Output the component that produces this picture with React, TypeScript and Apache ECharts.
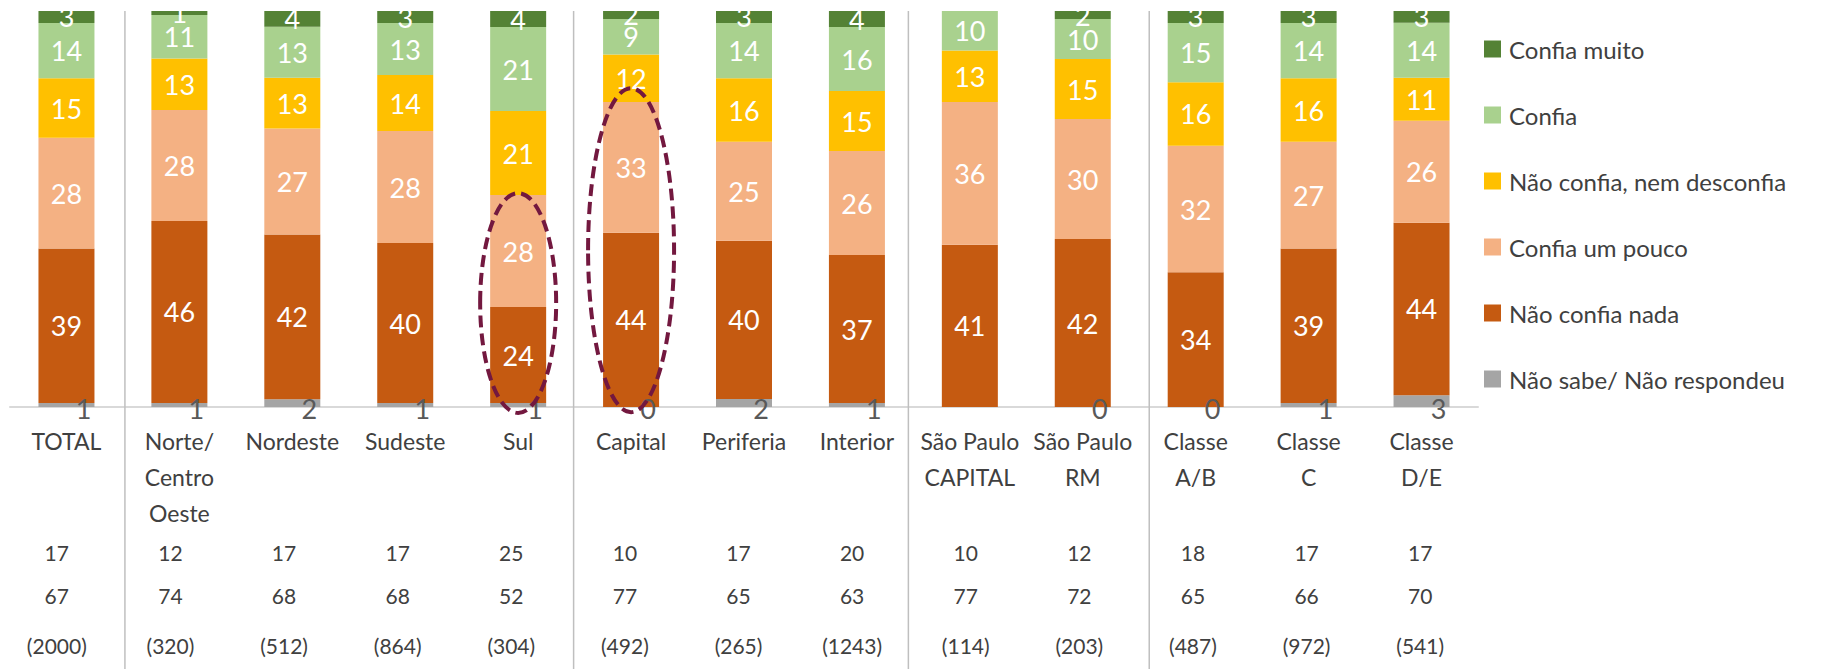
import React, { useEffect, useRef } from 'react';
import * as echarts from 'echarts';

const categories = ['TOTAL', 'Norte/\nCentro\nOeste', 'Nordeste', 'Sudeste', 'Sul', 'Capital', 'Periferia', 'Interior', 'São Paulo\nCAPITAL', 'São Paulo\nRM', 'Classe\nA/B', 'Classe\nC', 'Classe\nD/E'];

const naoSabe = [1, 1, 2, 1, 1, 0, 2, 1, null, 0, 0, 1, 3];
const naoConfiaNada = [39, 46, 42, 40, 24, 44, 40, 37, 41, 42, 34, 39, 44];
const confiaUmPouco = [28, 28, 27, 28, 28, 33, 25, 26, 36, 30, 32, 27, 26];
const nemDesconfia = [15, 13, 13, 14, 21, 12, 16, 15, 13, 15, 16, 16, 11];
const confia = [14, 11, 13, 13, 21, 9, 14, 16, 10, 10, 15, 14, 14];
const confiaMuito = [3, 1, 4, 3, 4, 2, 3, 4, null, 2, 3, 3, 3];

const rowConfia = ['17', '12', '17', '17', '25', '10', '17', '20', '10', '12', '18', '17', '17'];
const rowNaoConfia = ['67', '74', '68', '68', '52', '77', '65', '63', '77', '72', '65', '66', '70'];
const rowBase = ['(2000)', '(320)', '(512)', '(864)', '(304)', '(492)', '(265)', '(1243)', '(114)', '(203)', '(487)', '(972)', '(541)'];

const FONT = 'Lato';

export default function App() {
  const ref = useRef<HTMLDivElement>(null);
  useEffect(() => {
    if (!ref.current) return;
    const chart = echarts.init(ref.current, null, { renderer: 'svg' });
    const all = [naoSabe, naoConfiaNada, confiaUmPouco, nemDesconfia, confia, confiaMuito];
    const totals = categories.map((_, i) => all.reduce((s, a) => s + (a[i] ?? 0), 0));
    const norm = (arr: (number | null)[]) => arr.map((v, i) => (v == null ? null : (v / totals[i]) * 100));

    const mk = (name: string, arr: (number | null)[], color: string, gray = false) => ({
      name,
      type: 'bar',
      stack: 'total',
      xAxisIndex: 0,
      yAxisIndex: 0,
      barWidth: 56,
      data: norm(arr),
      itemStyle: { color },
      label: gray
        ? {
            show: true,
            position: 'insideBottom',
            distance: 0,
            verticalAlign: 'middle',
            offset: [17, 1],
            color: '#595959',
            fontSize: 27,
            fontFamily: FONT,
            formatter: (p: any) => String(arr[p.dataIndex]),
          }
        : {
            show: true,
            position: 'inside',
            color: '#ffffff',
            fontSize: 27,
            fontFamily: FONT,
            formatter: (p: any) => String(arr[p.dataIndex]),
          },
    });

    const rowAxis = (data: string[], gridIndex: number, offset: number) => ({
      type: 'category',
      gridIndex,
      position: 'bottom',
      data,
      offset,
      axisLine: { show: false },
      axisTick: { show: false },
      axisLabel: { interval: 0, color: '#404040', fontSize: 21, fontFamily: FONT, lineHeight: 24, margin: 0 },
    });
    const rowGrid = { left: 0, right: 353, top: 11, bottom: 262 };

    chart.setOption({
      animation: false,
      backgroundColor: '#ffffff',
      textStyle: { fontFamily: FONT },
      grid: [{ left: 10, right: 352, top: 11, bottom: 262 }, rowGrid, rowGrid, rowGrid],
      xAxis: [
        {
          type: 'category',
          gridIndex: 0,
          position: 'bottom',
          data: categories,
          axisLine: { lineStyle: { color: '#D9D9D9', width: 2 } },
          axisTick: { show: false },
          axisLabel: { interval: 0, color: '#404040', fontSize: 23, fontFamily: FONT, lineHeight: 36, margin: 16 },
        },
        rowAxis(rowConfia, 1, 133),
        rowAxis(rowNaoConfia, 2, 176),
        rowAxis(rowBase, 3, 226),
      ],
      yAxis: [0, 1, 2, 3].map((g) => ({ type: 'value', gridIndex: g, min: 0, max: 100, show: false })),
      legend: {
        orient: 'vertical',
        left: 1479,
        top: 32,
        itemWidth: 17,
        itemHeight: 17,
        itemGap: 42,
        icon: 'rect',
        data: ['Confia muito', 'Confia', 'Não confia, nem desconfia', 'Confia um pouco', 'Não confia nada', 'Não sabe/ Não respondeu'],
        textStyle: { color: '#404040', fontSize: 24, fontFamily: FONT, lineHeight: 24, padding: [0, 0, 0, 3] },
      },
      series: [
        mk('Não sabe/ Não respondeu', naoSabe, '#A5A5A5', true),
        mk('Não confia nada', naoConfiaNada, '#C55A11'),
        mk('Confia um pouco', confiaUmPouco, '#F4B183'),
        mk('Não confia, nem desconfia', nemDesconfia, '#FFC000'),
        mk('Confia', confia, '#A9D18E'),
        mk('Confia muito', confiaMuito, '#548235'),
      ],
    });

    // separators between category groups (with small hand-drawn nudges) and highlight ellipses
    const separators = [
      { after: 0, nudge: 2 },
      { after: 4, nudge: -1 },
      { after: 7, nudge: -5 },
      { after: 9, nudge: 10 },
    ];
    const ellipses = [
      { category: 4, top: 54, bottom: -1.5, halfWidth: 38 },
      { category: 5, top: 80.5, bottom: -1.3, halfWidth: 43 },
    ];
    const px = (i: number, v: number) => chart.convertToPixel({ gridIndex: 0 }, [i, v]) as number[];
    const graphics: any[] = [];
    separators.forEach((s) => {
      const x = (px(s.after, 0)[0] + px(s.after + 1, 0)[0]) / 2 + s.nudge;
      graphics.push({
        type: 'line',
        z: 50,
        shape: { x1: x, y1: 11, x2: x, y2: 669 },
        style: { stroke: '#BFBFBF', lineWidth: 1.5 },
      });
    });
    ellipses.forEach((e) => {
      const [cx, yTop] = px(e.category, e.top);
      const yBot = px(e.category, e.bottom)[1];
      graphics.push({
        type: 'ellipse',
        z: 100,
        shape: { cx, cy: (yTop + yBot) / 2, rx: e.halfWidth, ry: (yBot - yTop) / 2 },
        style: { fill: 'none', stroke: '#73183F', lineWidth: 4, lineDash: [12, 6] },
      });
    });
    chart.setOption({ graphic: graphics });

    return () => chart.dispose();
  }, []);
  return <div ref={ref} style={{ position: 'fixed', left: 0, top: 0, width: 1830, height: 669, background: '#fff' }} />;
}
